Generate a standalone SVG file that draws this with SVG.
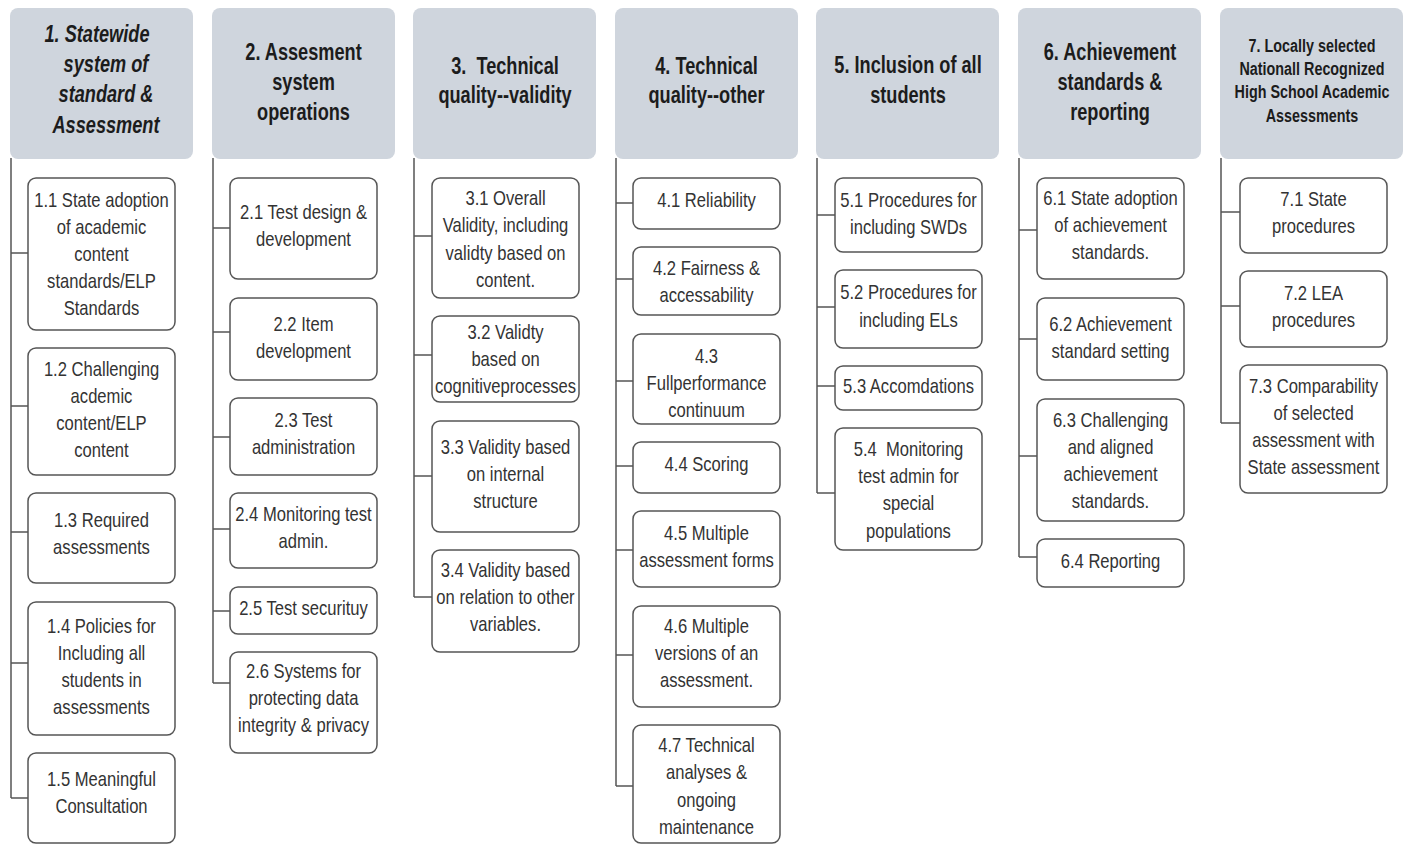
<svg xmlns="http://www.w3.org/2000/svg" width="1407" height="846" viewBox="0 0 1407 846">
  <style>
    .hdr { fill: #cfd5dd; }
    .box { fill: #ffffff; stroke: #555555; stroke-width: 1.5; }
    .ln { fill: none; stroke: #555555; stroke-width: 1.5; }
    .h { font-family: "Liberation Sans", Arial, sans-serif; font-weight: bold; font-size: 23px; fill: #1c1c1c; text-anchor: middle; }
    .h7 { font-size: 17.5px; }
    .it { font-style: italic; }
    .t { font-family: "Liberation Sans", Arial, sans-serif; font-size: 20px; fill: #333333; text-anchor: middle; }
  </style>

  <!-- Column headers -->
  <g id="h1">
    <rect class="hdr" x="10" y="8" width="183" height="151" rx="8"/>
    <text class="h it" transform="translate(97 0) scale(.79 1)"><tspan x="0" y="42">1. Statewide</tspan></text>
    <text class="h it" transform="translate(106 0) scale(.79 1)"><tspan x="0" y="72">system of</tspan><tspan x="0" y="102">standard &amp;</tspan><tspan x="0" y="133">Assessment</tspan></text>
  </g>
  <g id="h2">
    <rect class="hdr" x="212" y="8" width="183" height="151" rx="8"/>
    <text class="h" transform="translate(303.5 0) scale(.79 1)"><tspan x="0" y="60">2. Assesment</tspan><tspan x="0" y="90">system</tspan><tspan x="0" y="120">operations</tspan></text>
  </g>
  <g id="h3">
    <rect class="hdr" x="413" y="8" width="183" height="151" rx="8"/>
    <text class="h" xml:space="preserve" transform="translate(505 0) scale(.79 1)"><tspan x="0" y="74">3.  Technical</tspan><tspan x="0" y="103">quality--validity</tspan></text>
  </g>
  <g id="h4">
    <rect class="hdr" x="615" y="8" width="183" height="151" rx="8"/>
    <text class="h" transform="translate(706.5 0) scale(.79 1)"><tspan x="0" y="74">4. Technical</tspan><tspan x="0" y="103">quality--other</tspan></text>
  </g>
  <g id="h5">
    <rect class="hdr" x="816" y="8" width="183" height="151" rx="8"/>
    <text class="h" transform="translate(908 0) scale(.79 1)"><tspan x="0" y="73">5. Inclusion of all</tspan><tspan x="0" y="103">students</tspan></text>
  </g>
  <g id="h6">
    <rect class="hdr" x="1018" y="8" width="183" height="151" rx="8"/>
    <text class="h" transform="translate(1110 0) scale(.79 1)"><tspan x="0" y="60">6. Achievement</tspan><tspan x="0" y="90">standards &amp;</tspan><tspan x="0" y="120">reporting</tspan></text>
  </g>
  <g id="h7">
    <rect class="hdr" x="1220" y="8" width="183" height="151" rx="8"/>
    <text class="h h7" transform="translate(1312 0) scale(.82 1)"><tspan x="0" y="52">7. Locally selected</tspan><tspan x="0" y="75">Nationall Recognized</tspan><tspan x="0" y="98">High School Academic</tspan><tspan x="0" y="122">Assessments</tspan></text>
  </g>

  <!-- Tree connectors: one spine per column with a stub to each item -->
  <g id="connectors">
    <path class="ln" d="M11 158 V798 M11 253 H28 M11 406 H28 M11 532 H28 M11 663 H28 M11 798 H28"/>
    <path class="ln" d="M213 158 V683 M213 228 H230 M213 332 H230 M213 437 H230 M213 529 H230 M213 611 H230 M213 683 H230"/>
    <path class="ln" d="M414 158 V597 M414 236 H432 M414 355 H432 M414 476 H432 M414 597 H432"/>
    <path class="ln" d="M616 158 V786 M616 203 H633 M616 279 H633 M616 381 H633 M616 466 H633 M616 550 H633 M616 655 H633 M616 786 H633"/>
    <path class="ln" d="M817 158 V493 M817 215 H835 M817 307 H835 M817 386 H835 M817 493 H835"/>
    <path class="ln" d="M1019 158 V557 M1019 230 H1037 M1019 339 H1037 M1019 456 H1037 M1019 557 H1037"/>
    <path class="ln" d="M1221 158 V423 M1221 212 H1240 M1221 306 H1240 M1221 423 H1240"/>
  </g>

  <!-- Column 1 -->
  <g id="n1-1">
    <rect class="box" x="28" y="178" width="147" height="152" rx="8"/>
    <text class="t" transform="translate(101.5 0) scale(.83 1)"><tspan x="0" y="207">1.1 State adoption</tspan><tspan x="0" y="234">of academic</tspan><tspan x="0" y="261">content</tspan><tspan x="0" y="288">standards/ELP</tspan><tspan x="0" y="315">Standards</tspan></text>
  </g>
  <g id="n1-2">
    <rect class="box" x="28" y="348" width="147" height="127" rx="8"/>
    <text class="t" transform="translate(101.5 0) scale(.83 1)"><tspan x="0" y="376">1.2 Challenging</tspan><tspan x="0" y="403">acdemic</tspan><tspan x="0" y="430">content/ELP</tspan><tspan x="0" y="457">content</tspan></text>
  </g>
  <g id="n1-3">
    <rect class="box" x="28" y="493" width="147" height="90" rx="8"/>
    <text class="t" transform="translate(101.5 0) scale(.83 1)"><tspan x="0" y="527">1.3 Required</tspan><tspan x="0" y="554">assessments</tspan></text>
  </g>
  <g id="n1-4">
    <rect class="box" x="28" y="602" width="147" height="133" rx="8"/>
    <text class="t" transform="translate(101.5 0) scale(.83 1)"><tspan x="0" y="633">1.4 Policies for</tspan><tspan x="0" y="660">Including all</tspan><tspan x="0" y="687">students in</tspan><tspan x="0" y="714">assessments</tspan></text>
  </g>
  <g id="n1-5">
    <rect class="box" x="28" y="753" width="147" height="90" rx="8"/>
    <text class="t" transform="translate(101.5 0) scale(.83 1)"><tspan x="0" y="786">1.5 Meaningful</tspan><tspan x="0" y="813">Consultation</tspan></text>
  </g>

  <!-- Column 2 -->
  <g id="n2-1">
    <rect class="box" x="230" y="178" width="147" height="101" rx="8"/>
    <text class="t" transform="translate(303.5 0) scale(.83 1)"><tspan x="0" y="219">2.1 Test design &amp;</tspan><tspan x="0" y="246">development</tspan></text>
  </g>
  <g id="n2-2">
    <rect class="box" x="230" y="298" width="147" height="82" rx="8"/>
    <text class="t" transform="translate(303.5 0) scale(.83 1)"><tspan x="0" y="331">2.2 Item</tspan><tspan x="0" y="358">development</tspan></text>
  </g>
  <g id="n2-3">
    <rect class="box" x="230" y="398" width="147" height="77" rx="8"/>
    <text class="t" transform="translate(303.5 0) scale(.83 1)"><tspan x="0" y="427">2.3 Test</tspan><tspan x="0" y="454">administration</tspan></text>
  </g>
  <g id="n2-4">
    <rect class="box" x="230" y="493" width="147" height="75" rx="8"/>
    <text class="t" transform="translate(303.5 0) scale(.83 1)"><tspan x="0" y="521">2.4 Monitoring test</tspan><tspan x="0" y="548">admin.</tspan></text>
  </g>
  <g id="n2-5">
    <rect class="box" x="230" y="587" width="147" height="47" rx="8"/>
    <text class="t" transform="translate(303.5 0) scale(.83 1)"><tspan x="0" y="615">2.5 Test securituy</tspan></text>
  </g>
  <g id="n2-6">
    <rect class="box" x="230" y="652" width="147" height="101" rx="8"/>
    <text class="t" transform="translate(303.5 0) scale(.83 1)"><tspan x="0" y="678">2.6 Systems for</tspan><tspan x="0" y="705">protecting data</tspan><tspan x="0" y="732">integrity &amp; privacy</tspan></text>
  </g>

  <!-- Column 3 -->
  <g id="n3-1">
    <rect class="box" x="432" y="178" width="147" height="120" rx="8"/>
    <text class="t" transform="translate(505.5 0) scale(.83 1)"><tspan x="0" y="205">3.1 Overall</tspan><tspan x="0" y="232">Validity, including</tspan><tspan x="0" y="260">validty based on</tspan><tspan x="0" y="287">content.</tspan></text>
  </g>
  <g id="n3-2">
    <rect class="box" x="432" y="316" width="147" height="86" rx="8"/>
    <text class="t" transform="translate(505.5 0) scale(.83 1)"><tspan x="0" y="339">3.2 Validty</tspan><tspan x="0" y="366">based on</tspan><tspan x="0" y="393">cognitiveprocesses</tspan></text>
  </g>
  <g id="n3-3">
    <rect class="box" x="432" y="421" width="147" height="111" rx="8"/>
    <text class="t" transform="translate(505.5 0) scale(.83 1)"><tspan x="0" y="454">3.3 Validity based</tspan><tspan x="0" y="481">on internal</tspan><tspan x="0" y="508">structure</tspan></text>
  </g>
  <g id="n3-4">
    <rect class="box" x="432" y="550" width="147" height="102" rx="8"/>
    <text class="t" transform="translate(505.5 0) scale(.83 1)"><tspan x="0" y="577">3.4 Validity based</tspan><tspan x="0" y="604">on relation to other</tspan><tspan x="0" y="631">variables.</tspan></text>
  </g>

  <!-- Column 4 -->
  <g id="n4-1">
    <rect class="box" x="633" y="178" width="147" height="51" rx="8"/>
    <text class="t" transform="translate(706.5 0) scale(.83 1)"><tspan x="0" y="207">4.1 Reliability</tspan></text>
  </g>
  <g id="n4-2">
    <rect class="box" x="633" y="247" width="147" height="68" rx="8"/>
    <text class="t" transform="translate(706.5 0) scale(.83 1)"><tspan x="0" y="275">4.2 Fairness &amp;</tspan><tspan x="0" y="302">accessability</tspan></text>
  </g>
  <g id="n4-3">
    <rect class="box" x="633" y="334" width="147" height="90" rx="8"/>
    <text class="t" transform="translate(706.5 0) scale(.83 1)"><tspan x="0" y="363">4.3</tspan><tspan x="0" y="390">Fullperformance</tspan><tspan x="0" y="417">continuum</tspan></text>
  </g>
  <g id="n4-4">
    <rect class="box" x="633" y="442" width="147" height="51" rx="8"/>
    <text class="t" transform="translate(706.5 0) scale(.83 1)"><tspan x="0" y="471">4.4 Scoring</tspan></text>
  </g>
  <g id="n4-5">
    <rect class="box" x="633" y="511" width="147" height="76" rx="8"/>
    <text class="t" transform="translate(706.5 0) scale(.83 1)"><tspan x="0" y="540">4.5 Multiple</tspan><tspan x="0" y="567">assessment forms</tspan></text>
  </g>
  <g id="n4-6">
    <rect class="box" x="633" y="606" width="147" height="101" rx="8"/>
    <text class="t" transform="translate(706.5 0) scale(.83 1)"><tspan x="0" y="633">4.6 Multiple</tspan><tspan x="0" y="660">versions of an</tspan><tspan x="0" y="687">assessment.</tspan></text>
  </g>
  <g id="n4-7">
    <rect class="box" x="633" y="725" width="147" height="118" rx="8"/>
    <text class="t" transform="translate(706.5 0) scale(.83 1)"><tspan x="0" y="752">4.7 Technical</tspan><tspan x="0" y="779">analyses &amp;</tspan><tspan x="0" y="807">ongoing</tspan><tspan x="0" y="834">maintenance</tspan></text>
  </g>

  <!-- Column 5 -->
  <g id="n5-1">
    <rect class="box" x="835" y="178" width="147" height="74" rx="8"/>
    <text class="t" transform="translate(908.5 0) scale(.83 1)"><tspan x="0" y="207">5.1 Procedures for</tspan><tspan x="0" y="234">including SWDs</tspan></text>
  </g>
  <g id="n5-2">
    <rect class="box" x="835" y="270" width="147" height="78" rx="8"/>
    <text class="t" transform="translate(908.5 0) scale(.83 1)"><tspan x="0" y="299">5.2 Procedures for</tspan><tspan x="0" y="327">including ELs</tspan></text>
  </g>
  <g id="n5-3">
    <rect class="box" x="835" y="366" width="147" height="44" rx="8"/>
    <text class="t" transform="translate(908.5 0) scale(.83 1)"><tspan x="0" y="393">5.3 Accomdations</tspan></text>
  </g>
  <g id="n5-4">
    <rect class="box" x="835" y="428" width="147" height="122" rx="8"/>
    <text class="t" xml:space="preserve" transform="translate(908.5 0) scale(.83 1)"><tspan x="0" y="456">5.4  Monitoring</tspan><tspan x="0" y="483">test admin for</tspan><tspan x="0" y="510">special</tspan><tspan x="0" y="538">populations</tspan></text>
  </g>

  <!-- Column 6 -->
  <g id="n6-1">
    <rect class="box" x="1037" y="178" width="147" height="101" rx="8"/>
    <text class="t" transform="translate(1110.5 0) scale(.83 1)"><tspan x="0" y="205">6.1 State adoption</tspan><tspan x="0" y="232">of achievement</tspan><tspan x="0" y="259">standards.</tspan></text>
  </g>
  <g id="n6-2">
    <rect class="box" x="1037" y="298" width="147" height="82" rx="8"/>
    <text class="t" transform="translate(1110.5 0) scale(.83 1)"><tspan x="0" y="331">6.2 Achievement</tspan><tspan x="0" y="358">standard setting</tspan></text>
  </g>
  <g id="n6-3">
    <rect class="box" x="1037" y="399" width="147" height="122" rx="8"/>
    <text class="t" transform="translate(1110.5 0) scale(.83 1)"><tspan x="0" y="427">6.3 Challenging</tspan><tspan x="0" y="454">and aligned</tspan><tspan x="0" y="481">achievement</tspan><tspan x="0" y="508">standards.</tspan></text>
  </g>
  <g id="n6-4">
    <rect class="box" x="1037" y="539" width="147" height="48" rx="8"/>
    <text class="t" transform="translate(1110.5 0) scale(.83 1)"><tspan x="0" y="568">6.4 Reporting</tspan></text>
  </g>

  <!-- Column 7 -->
  <g id="n7-1">
    <rect class="box" x="1240" y="178" width="147" height="75" rx="8"/>
    <text class="t" transform="translate(1313.5 0) scale(.83 1)"><tspan x="0" y="206">7.1 State</tspan><tspan x="0" y="233">procedures</tspan></text>
  </g>
  <g id="n7-2">
    <rect class="box" x="1240" y="271" width="147" height="76" rx="8"/>
    <text class="t" transform="translate(1313.5 0) scale(.83 1)"><tspan x="0" y="300">7.2 LEA</tspan><tspan x="0" y="327">procedures</tspan></text>
  </g>
  <g id="n7-3">
    <rect class="box" x="1240" y="365" width="147" height="128" rx="8"/>
    <text class="t" transform="translate(1313.5 0) scale(.83 1)"><tspan x="0" y="393">7.3 Comparability</tspan><tspan x="0" y="420">of selected</tspan><tspan x="0" y="447">assessment with</tspan><tspan x="0" y="474">State assessment</tspan></text>
  </g>
</svg>
